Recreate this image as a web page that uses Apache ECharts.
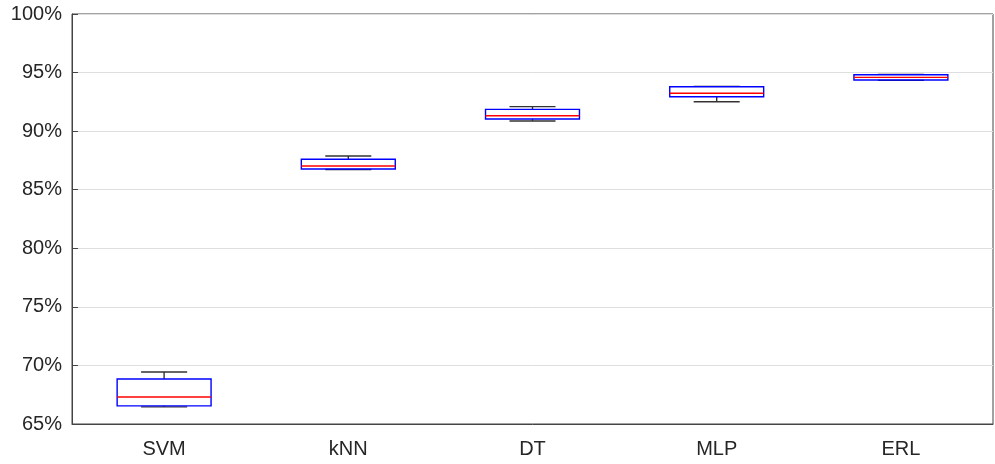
<!DOCTYPE html>
<html><head><meta charset="utf-8">
<script src="https://cdn.jsdelivr.net/npm/echarts@6/dist/echarts.min.js"></script>
<style>html,body{margin:0;padding:0;background:#fff}#c{width:995px;height:464px}</style>
</head><body><div id="c"></div>
<script>
const categories = ['SVM', 'kNN', 'DT', 'MLP', 'ERL'];
const whiskerLow = [66.46, 86.72, 90.87, 92.51, 94.33];
const q1 = [66.55, 86.77, 91.04, 92.94, 94.37];
const median = [67.30, 87.02, 91.32, 93.23, 94.59];
const q3 = [68.84, 87.60, 91.86, 93.79, 94.82];
const whiskerHigh = [69.44, 87.88, 92.09, 93.82, 94.85];
const yTicks = [65, 70, 75, 80, 85, 90, 95, 100];

const data = categories.map((c, i) => [i, whiskerLow[i], q1[i], median[i], q3[i], whiskerHigh[i]]);

const chart = echarts.init(document.getElementById('c'), null, {renderer: 'canvas'});
const txt = '#262626';
chart.setOption({
  animation: false,
  grid: {left: 72, right: 2, top: 14, bottom: 40, show: true, borderColor: '#444', borderWidth: 1, backgroundColor: 'transparent'},
  xAxis: {
    type: 'category', data: categories, boundaryGap: true,
    axisLine: {lineStyle: {color: '#444'}},
    axisTick: {inside: true, alignWithLabel: true, length: 6, lineStyle: {color: '#444'}},
    axisLabel: {color: txt, fontSize: 20, fontFamily: 'Liberation Sans', margin: 15},
    splitLine: {show: false}
  },
  yAxis: {
    type: 'value', min: 65, max: 100, interval: 5,
    axisLine: {show: true, lineStyle: {color: '#444'}},
    axisTick: {show: true, inside: true, length: 6, lineStyle: {color: '#444'}},
    axisLabel: {color: txt, fontSize: 20, fontFamily: 'Liberation Sans', margin: 10, formatter: v => yTicks.includes(v) ? v + '%' : ''},
    splitLine: {show: true, lineStyle: {color: '#dedede', width: 1}}
  },
  series: [{
    type: 'custom',
    data: data,
    renderItem: function (params, api) {
      const i = api.value(0);
      const band = api.size([1, 0])[0];
      const bw = band * 0.255;
      const cw = band * 0.125;
      const x = api.coord([i, 0])[0];
      const yl = api.coord([i, api.value(1)])[1];
      const y1 = api.coord([i, api.value(2)])[1];
      const ym = api.coord([i, api.value(3)])[1];
      const y3 = api.coord([i, api.value(4)])[1];
      const yh = api.coord([i, api.value(5)])[1];
      const black = {stroke: '#333', lineWidth: 1.4};
      return {
        type: 'group',
        children: [
          {type: 'line', shape: {x1: x, y1: yh, x2: x, y2: y3}, style: black},
          {type: 'line', shape: {x1: x, y1: y1, x2: x, y2: yl}, style: black},
          {type: 'line', shape: {x1: x - cw, y1: yh, x2: x + cw, y2: yh}, style: black},
          {type: 'line', shape: {x1: x - cw, y1: yl, x2: x + cw, y2: yl}, style: black},
          {type: 'rect', shape: {x: x - bw, y: y3, width: 2 * bw, height: y1 - y3}, style: {fill: 'none', stroke: '#0000ff', lineWidth: 1.4}},
          {type: 'line', shape: {x1: x - bw, y1: ym, x2: x + bw, y2: ym}, style: {stroke: '#ff0000', lineWidth: 1.4}}
        ]
      };
    }
  }]
});
</script></body></html>
